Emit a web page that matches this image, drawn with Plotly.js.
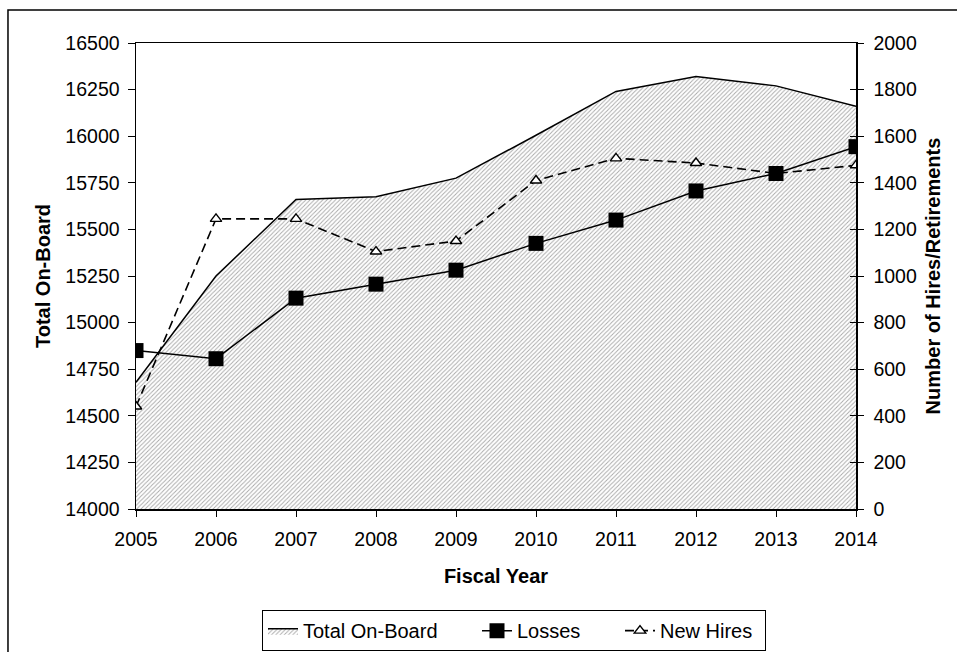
<!DOCTYPE html>
<html>
<head>
<meta charset="utf-8">
<script src="https://cdn.plot.ly/plotly-3.0.1.min.js"></script>
<style>
  html, body { margin: 0; padding: 0; background: #ffffff; }
  #chart { width: 957px; height: 652px; }
</style>
</head>
<body>
<div id="chart"></div>
<script>
// Fiscal years on the shared x axis
const years = [2005, 2006, 2007, 2008, 2009, 2010, 2011, 2012, 2013, 2014];

// Total workforce on board (left axis)
const totalOnBoard = [14680, 15250, 15660, 15675, 15775, 16005, 16240, 16320, 16270, 16160];

// Losses and new hires per year (right axis)
const losses = [680, 645, 905, 965, 1025, 1140, 1240, 1365, 1440, 1555];
const newHires = [440, 1245, 1245, 1105, 1150, 1410, 1505, 1485, 1440, 1475];

// Axis tick values and labels
const leftTicks = [14000, 14250, 14500, 14750, 15000, 15250, 15500, 15750, 16000, 16250, 16500];
const leftTickText = ['14000', '14250', '14500', '14750', '15000', '15250', '15500', '15750', '16000', '16250', '16500'];
const rightTicks = [0, 200, 400, 600, 800, 1000, 1200, 1400, 1600, 1800, 2000];
const rightTickText = ['0', '200', '400', '600', '800', '1000', '1200', '1400', '1600', '1800', '2000'];
const yearLabels = ['2005', '2006', '2007', '2008', '2009', '2010', '2011', '2012', '2013', '2014'];

const FONT = '"Liberation Sans", Arial, sans-serif';
const TICK_SIZE = 19.5;
const TEXT_SIZE = 20;

const traces = [
  {
    name: 'Total On-Board',
    x: years,
    y: totalOnBoard,
    yaxis: 'y',
    type: 'scatter',
    mode: 'lines',
    fill: 'tozeroy',
    fillcolor: '#ffffff',
    fillpattern: { shape: '/', fgcolor: '#a8a8a8', bgcolor: '#ffffff', size: 3, solidity: 0.3 },
    line: { color: '#000000', width: 1.5 },
    legendrank: 1,
    legendwidth: 169,
    hoverinfo: 'skip'
  },
  {
    name: 'New Hires',
    x: years,
    y: newHires,
    yaxis: 'y2',
    type: 'scatter',
    mode: 'lines+markers',
    line: { color: '#000000', width: 1.6, dash: '9px,5px' },
    marker: { symbol: 'triangle-up', size: 10, color: '#ffffff', line: { color: '#000000', width: 1.4 } },
    legendrank: 3,
    legendwidth: 100,
    hoverinfo: 'skip'
  },
  {
    name: 'Losses',
    x: years,
    y: losses,
    yaxis: 'y2',
    type: 'scatter',
    mode: 'lines+markers',
    line: { color: '#000000', width: 1.5 },
    marker: { symbol: 'square', size: 15, color: '#000000' },
    legendrank: 2,
    legendwidth: 98,
    hoverinfo: 'skip'
  },
  // empty trace so the helper tick axis is drawn
  { x: [], y: [], yaxis: 'y3', type: 'scatter', showlegend: false, hoverinfo: 'skip' }
];

const layout = {
  width: 957,
  height: 652,
  margin: { l: 136, r: 101, t: 43, b: 143, autoexpand: false },
  paper_bgcolor: '#ffffff',
  plot_bgcolor: '#ffffff',
  font: { family: FONT, size: TEXT_SIZE, color: '#000000' },
  showlegend: true,
  legend: {
    orientation: 'h',
    x: 0.175,
    xanchor: 'left',
    y: -0.305,
    yanchor: 'bottom',
    bordercolor: '#000000',
    borderwidth: 1,
    bgcolor: '#ffffff',
    font: { family: FONT, size: TEXT_SIZE, color: '#000000' },
    traceorder: 'normal',
    itemwidth: 30
  },
  xaxis: {
    range: [2005, 2014],
    tickmode: 'array',
    tickvals: years,
    ticktext: yearLabels,
    ticks: 'outside',
    ticklen: 6,
    tickwidth: 1,
    tickcolor: '#000000',
    ticklabelstandoff: 6,
    showline: true,
    linecolor: '#000000',
    linewidth: 1.5,
    mirror: true,
    showgrid: false,
    zeroline: false,
    tickfont: { family: FONT, size: TICK_SIZE },
    title: { text: '<b>Fiscal Year</b>', font: { family: FONT, size: TEXT_SIZE }, standoff: 20 },
    fixedrange: true
  },
  yaxis: {
    range: [14000, 16500],
    tickmode: 'array',
    tickvals: leftTicks,
    ticktext: leftTickText,
    ticks: 'outside',
    ticklen: 7,
    tickwidth: 1,
    tickcolor: '#000000',
    ticklabelstandoff: 4,
    showline: true,
    linecolor: '#000000',
    linewidth: 1.5,
    showgrid: false,
    zeroline: false,
    tickfont: { family: FONT, size: TICK_SIZE },
    title: { text: '<b>Total On-Board</b>', font: { family: FONT, size: TEXT_SIZE }, standoff: 9 },
    fixedrange: true
  },
  yaxis2: {
    overlaying: 'y',
    side: 'right',
    range: [0, 2000],
    tickmode: 'array',
    tickvals: rightTicks,
    ticktext: rightTickText,
    ticks: 'outside',
    ticklen: 6,
    tickwidth: 1,
    tickcolor: '#000000',
    ticklabelstandoff: 6,
    showline: true,
    linecolor: '#000000',
    linewidth: 1.5,
    showgrid: false,
    zeroline: false,
    tickfont: { family: FONT, size: TICK_SIZE },
    title: { text: '<b>Number of Hires/Retirements</b>', font: { family: FONT, size: TEXT_SIZE }, standoff: 10 },
    fixedrange: true
  },
  // inner half of the right-hand tick marks, so they cross the axis line
  yaxis3: {
    overlaying: 'y',
    side: 'right',
    anchor: 'x',
    range: [0, 2000],
    tickmode: 'array',
    tickvals: rightTicks,
    ticks: 'inside',
    ticklen: 6,
    tickwidth: 1,
    tickcolor: '#000000',
    showticklabels: false,
    showline: false,
    showgrid: false,
    zeroline: false,
    fixedrange: true
  },
  // outer frame around the whole chart
  shapes: [
    {
      type: 'rect',
      xref: 'paper', yref: 'paper',
      x0: -0.1778, x1: 1.25,
      y0: -0.45, y1: 1.0708,
      line: { color: '#000000', width: 1.5 },
      fillcolor: 'rgba(0,0,0,0)',
      layer: 'below'
    }
  ]
};

Plotly.newPlot('chart', traces, layout, { displayModeBar: false, staticPlot: true });
</script>
</body>
</html>
